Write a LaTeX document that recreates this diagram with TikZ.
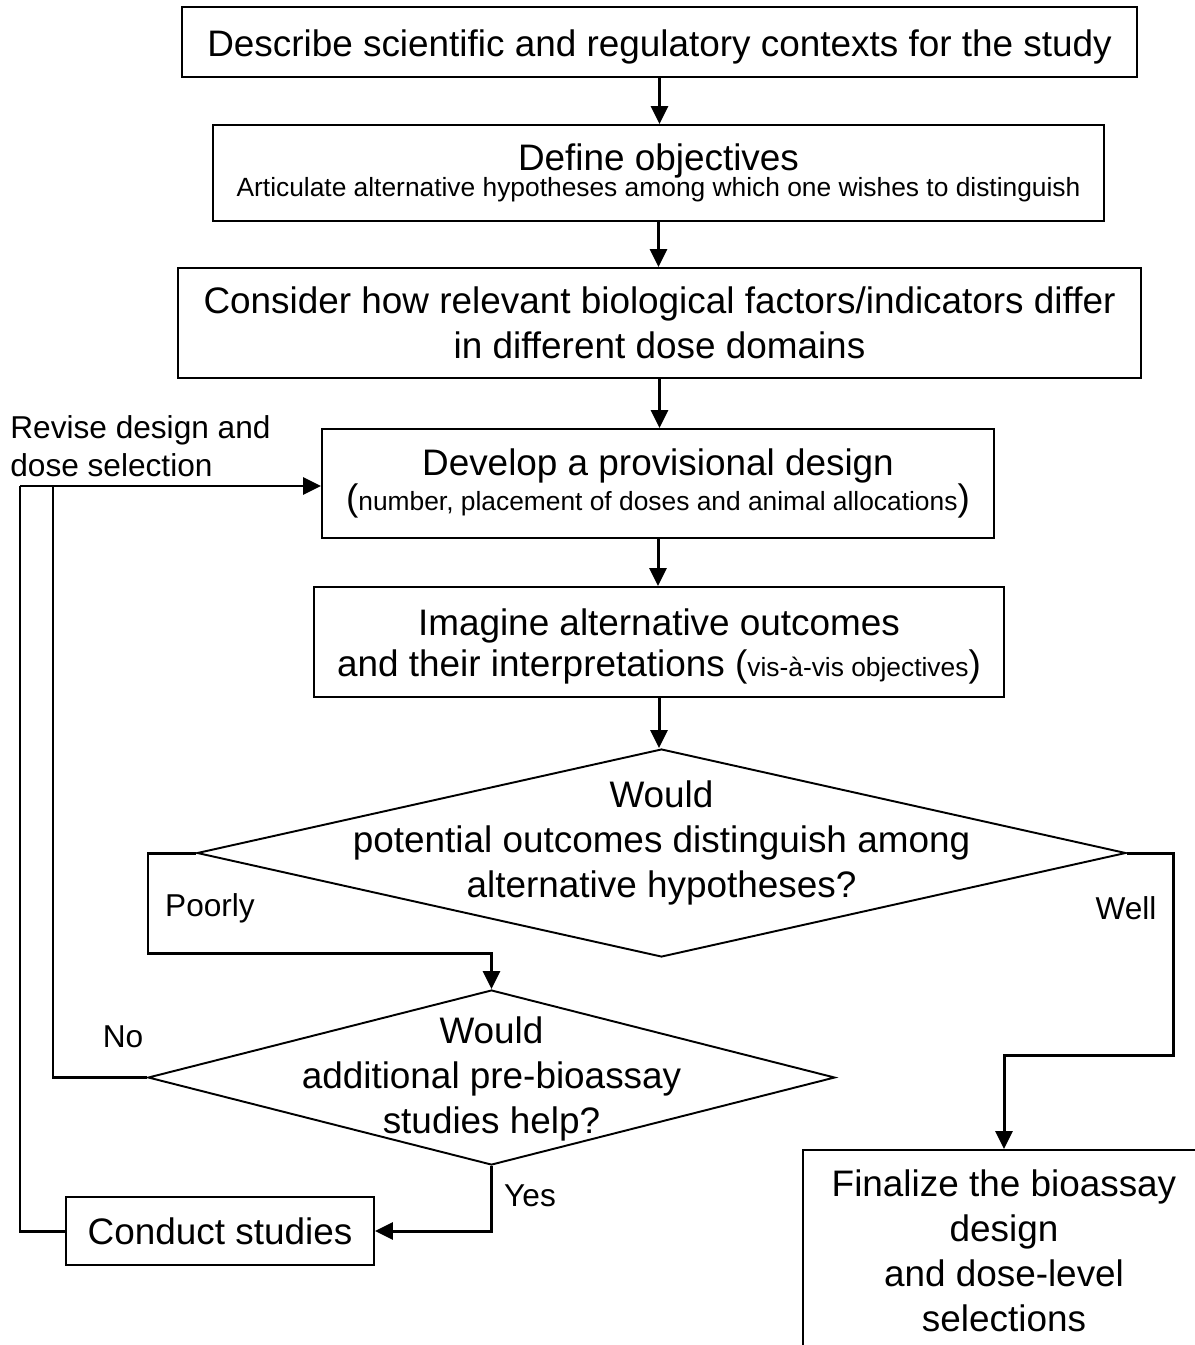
\documentclass[tikz,border=0pt]{standalone}
\usepackage{fontspec}
\setmainfont{Liberation Sans}
\usetikzlibrary{arrows.meta, shapes.geometric, positioning}

\newcommand{\bigf}{\fontsize{21}{25.6}\selectfont}
\newcommand{\smallf}{\fontsize{15}{17}\selectfont}
\newcommand{\lblf}{\fontsize{18}{21.3}\selectfont}
% pushes the first line of a box down a little
\newcommand{\lift}[1]{\rule{0pt}{\dimexpr\fontcharht\font`f+#1\relax}}
% text of a diamond that does not widen the shape
\newcommand{\flatbox}[2]{\smash{\raisebox{#1}{\makebox[0pt]{\begin{tabular}{@{}c@{}}#2\end{tabular}}}}}

\begin{document}
\begin{tikzpicture}[x=0.02cm, y=-0.02cm,
    box/.style={rectangle, draw, line width=1.1pt, align=center, font=\bigf, inner sep=0pt},
    choice/.style={diamond, draw, line width=1.1pt, font=\bigf, inner sep=0pt},
    arr/.style={-{Triangle[length=0.36cm, width=0.34cm]}, line width=1.7pt},
    lnk/.style={line width=1.7pt},
    lbl/.style={font=\lblf, inner sep=0pt}]

    \useasboundingbox (0,0) rectangle (1195,1345);
    \clip (0,0) rectangle (1195,1345);

    \node[box, minimum width=19.1cm, minimum height=1.4cm] (b1) at (659.5,42) {\lift{6.1pt}Describe scientific and regulatory contexts for the study};
    \node[box, minimum width=17.82cm, minimum height=1.92cm] (b2) at (658.5,173) {Define objectives\\[-10.9pt]{\smallf Articulate alternative hypotheses among which one wishes to distinguish}};
    \node[box, minimum width=19.26cm, minimum height=2.2cm] (b3) at (659.5,323) {Consider how relevant biological factors/indicators differ\\in different dose domains};
    \node[box, minimum width=13.44cm, minimum height=2.18cm] (b4) at (658,483.5) {Develop a provisional design\\[-5.8pt]({\smallf number, placement of doses and animal allocations})};
    \node[box, minimum width=13.8cm, minimum height=2.2cm] (b5) at (659,642) {\lift{5.7pt}Imagine alternative outcomes\\[-2.4pt]and their interpretations ({\smallf vis-à-vis objectives})};
    \node[choice, minimum width=18.58cm, minimum height=4.16cm] (d1) at (661.5,853) {\flatbox{0pt}{Would\\potential outcomes distinguish among\\alternative hypotheses?}};
    \node[choice, minimum width=13.74cm, minimum height=3.5cm] (d2) at (491.5,1077.5) {\flatbox{-6.3pt}{Would\\additional pre-bioassay\\studies help?}};
    \node[box, minimum width=6.16cm, minimum height=1.36cm] (cs) at (220,1231) {Conduct studies};
    \node[box, minimum width=8.04cm, minimum height=4.04cm] (fin) at (1004,1251) {Finalize the bioassay\\design\\and dose-level\\selections};

    \node[lbl, align=left, anchor=west] (rev) at (10,446) {Revise design and\\dose selection};
    \node[lbl] (poor) at (210,908) {Poorly};
    \node[lbl] (well) at (1126,908) {Well};
    \node[lbl] (no) at (123,1037) {No};
    \node[lbl] (yes) at (530,1196) {Yes};

    \coordinate (loopin) at (53,486);
    \coordinate (loopout) at (20,486);
    \coordinate (poorturn) at (148,953);
    \coordinate (wellturn) at (1173,1055);

    \draw[arr] (b1.south) -- (b1.south |- b2.north);
    \draw[arr] (b2.south) -- (b2.south |- b3.north);
    \draw[arr] (b3.south) -- (b3.south |- b4.north);
    \draw[arr] (b4.south) -- (b4.south |- b5.north);
    \draw[arr] (b5.south) -- (b5.south |- d1.north);
    \draw[arr] (d1.west) -| (poorturn) -| (d2.north);
    \draw[arr] (d1.east) -| (wellturn) -| (fin.north);
    \draw[arr] (d2.south) |- (cs.east);
    \draw[lnk] (d2.west) -| (loopin);
    \draw[lnk] (cs.west) -| (loopout);
    \draw[arr] (loopout) -- (loopout -| b4.west);
\end{tikzpicture}
\end{document}
